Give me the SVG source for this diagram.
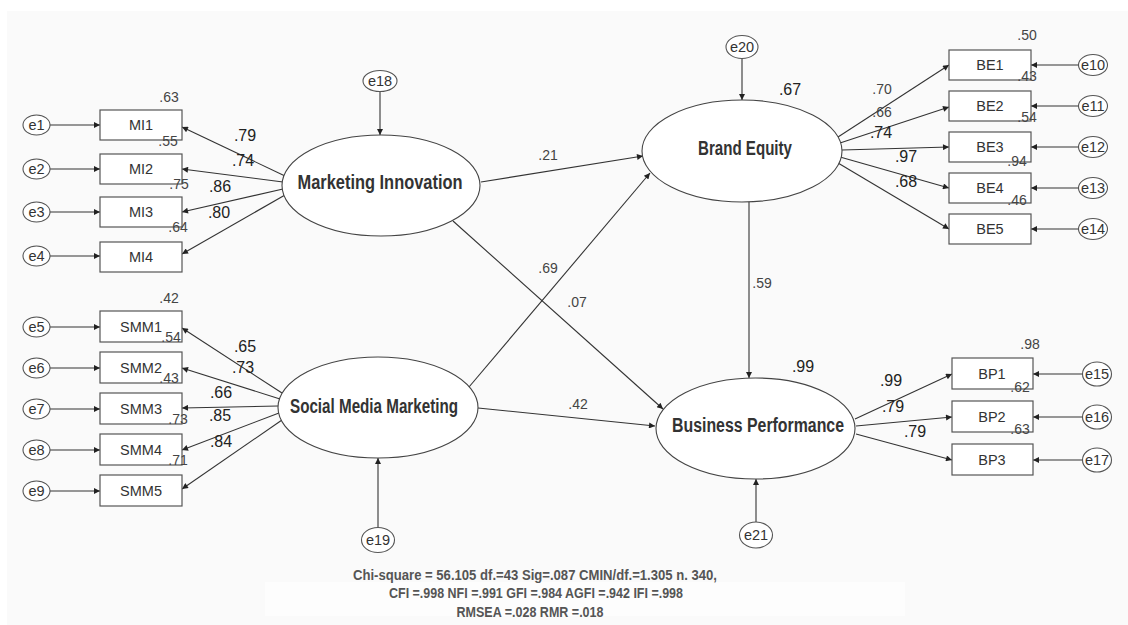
<svg xmlns="http://www.w3.org/2000/svg" width="1128" height="625" viewBox="0 0 1128 625">
<defs>
<marker id="ah" viewBox="0 0 10 10" refX="10" refY="5" markerWidth="9" markerHeight="6" markerUnits="userSpaceOnUse" orient="auto">
<path d="M0,0 L10,5 L0,10 z" fill="#222"/>
</marker>
<style>
.ln{stroke:#333;stroke-width:1.1;fill:none;marker-end:url(#ah)}
.bx{fill:#fff;stroke:#555;stroke-width:1.2}
.lat{fill:#fff;stroke:#444;stroke-width:1.1}
.err{fill:#fff;stroke:#555;stroke-width:1.1}
.bt{font-family:"Liberation Sans",Arial,sans-serif;font-size:14.5px;fill:#333;text-anchor:middle}
.et{font-family:"Liberation Sans",Arial,sans-serif;font-size:14.5px;fill:#333;text-anchor:middle}
.lt{font-family:"Liberation Sans",Arial,sans-serif;font-size:20px;font-weight:bold;fill:#333;text-anchor:middle}
.ld{font-family:"Liberation Sans",Arial,sans-serif;font-size:16px;fill:#222;text-anchor:middle}
.r2{font-family:"Liberation Sans",Arial,sans-serif;font-size:14px;fill:#444;text-anchor:middle}
.ft{font-family:"Liberation Sans",Arial,sans-serif;font-size:14px;font-weight:bold;fill:#555;text-anchor:middle}
</style>
</defs>
<rect x="0" y="0" width="1128" height="625" fill="#fff"/>
<rect x="7" y="11" width="1121" height="614" fill="#fafafa"/>
<rect x="265" y="582" width="640" height="34" fill="#fff" opacity="0.5"/>

<g id="connectors">
<line class="ln" x1="50" y1="125" x2="100" y2="125"/>
<line class="ln" x1="50" y1="169" x2="100" y2="169"/>
<line class="ln" x1="50" y1="212" x2="100" y2="212"/>
<line class="ln" x1="50" y1="256" x2="100" y2="256"/>
<line class="ln" x1="50" y1="327" x2="100" y2="327"/>
<line class="ln" x1="50" y1="368" x2="100" y2="368"/>
<line class="ln" x1="50" y1="409" x2="100" y2="409"/>
<line class="ln" x1="50" y1="450" x2="100" y2="450"/>
<line class="ln" x1="50" y1="491" x2="100" y2="491"/>
<line class="ln" x1="285" y1="176" x2="182" y2="127"/>
<line class="ln" x1="283" y1="182" x2="182" y2="169"/>
<line class="ln" x1="283" y1="189" x2="182" y2="212"/>
<line class="ln" x1="285" y1="195" x2="182" y2="254"/>
<line class="ln" x1="282" y1="393" x2="182" y2="328"/>
<line class="ln" x1="280" y1="399" x2="182" y2="368"/>
<line class="ln" x1="278" y1="406" x2="182" y2="408"/>
<line class="ln" x1="279" y1="413" x2="182" y2="450"/>
<line class="ln" x1="282" y1="420" x2="182" y2="489"/>
<line class="ln" x1="380" y1="91" x2="380" y2="135"/>
<line class="ln" x1="378" y1="528" x2="378" y2="458"/>
<line class="ln" x1="742" y1="58" x2="742" y2="100"/>
<line class="ln" x1="756" y1="522" x2="756" y2="479"/>
<line class="ln" x1="481" y1="182" x2="643" y2="156"/>
<line class="ln" x1="469" y1="387" x2="650" y2="173"/>
<line class="ln" x1="453" y1="221" x2="663" y2="409"/>
<line class="ln" x1="478" y1="408" x2="655" y2="426"/>
<line class="ln" x1="749" y1="202" x2="749" y2="378"/>
<line class="ln" x1="838" y1="137" x2="949" y2="65"/>
<line class="ln" x1="840" y1="143" x2="949" y2="107"/>
<line class="ln" x1="842" y1="150" x2="949" y2="147"/>
<line class="ln" x1="840" y1="157" x2="949" y2="188"/>
<line class="ln" x1="838" y1="163" x2="949" y2="229"/>
<line class="ln" x1="855" y1="419" x2="952" y2="374"/>
<line class="ln" x1="856" y1="426" x2="952" y2="417"/>
<line class="ln" x1="856" y1="434" x2="952" y2="460"/>
<line class="ln" x1="1079" y1="65" x2="1031" y2="65"/>
<line class="ln" x1="1079" y1="106" x2="1031" y2="106"/>
<line class="ln" x1="1079" y1="147" x2="1031" y2="147"/>
<line class="ln" x1="1079" y1="188" x2="1031" y2="188"/>
<line class="ln" x1="1079" y1="229" x2="1031" y2="229"/>
<line class="ln" x1="1083" y1="374" x2="1033" y2="374"/>
<line class="ln" x1="1083" y1="417" x2="1033" y2="417"/>
<line class="ln" x1="1083" y1="460" x2="1033" y2="460"/>
</g>

<g id="e1"><ellipse class="err" cx="36.5" cy="125" rx="13.5" ry="10"/><text class="et" x="36.5" y="130">e1</text></g>
<g id="e2"><ellipse class="err" cx="36.5" cy="169" rx="13.5" ry="10"/><text class="et" x="36.5" y="174">e2</text></g>
<g id="e3"><ellipse class="err" cx="36.5" cy="212" rx="13.5" ry="10"/><text class="et" x="36.5" y="217">e3</text></g>
<g id="e4"><ellipse class="err" cx="36.5" cy="256" rx="13.5" ry="10"/><text class="et" x="36.5" y="261">e4</text></g>
<g id="e5"><ellipse class="err" cx="36.5" cy="327" rx="13.5" ry="10"/><text class="et" x="36.5" y="332">e5</text></g>
<g id="e6"><ellipse class="err" cx="36.5" cy="368" rx="13.5" ry="10"/><text class="et" x="36.5" y="373">e6</text></g>
<g id="e7"><ellipse class="err" cx="36.5" cy="409" rx="13.5" ry="10"/><text class="et" x="36.5" y="414">e7</text></g>
<g id="e8"><ellipse class="err" cx="36.5" cy="450" rx="13.5" ry="10"/><text class="et" x="36.5" y="455">e8</text></g>
<g id="e9"><ellipse class="err" cx="36.5" cy="491" rx="13.5" ry="10"/><text class="et" x="36.5" y="496">e9</text></g>

<g id="MI1"><rect class="bx" x="100" y="110" width="82" height="30"/><text class="bt" x="141" y="130">MI1</text></g>
<g id="MI2"><rect class="bx" x="100" y="154" width="82" height="30"/><text class="bt" x="141" y="174">MI2</text></g>
<g id="MI3"><rect class="bx" x="100" y="197" width="82" height="30"/><text class="bt" x="141" y="217">MI3</text></g>
<g id="MI4"><rect class="bx" x="100" y="242" width="82" height="30"/><text class="bt" x="141" y="262">MI4</text></g>
<g id="SMM1"><rect class="bx" x="100" y="311" width="82" height="31"/><text class="bt" x="141" y="332">SMM1</text></g>
<g id="SMM2"><rect class="bx" x="100" y="352" width="82" height="31"/><text class="bt" x="141" y="373">SMM2</text></g>
<g id="SMM3"><rect class="bx" x="100" y="393" width="82" height="31"/><text class="bt" x="141" y="414">SMM3</text></g>
<g id="SMM4"><rect class="bx" x="100" y="434" width="82" height="31"/><text class="bt" x="141" y="455">SMM4</text></g>
<g id="SMM5"><rect class="bx" x="100" y="475" width="82" height="31"/><text class="bt" x="141" y="496">SMM5</text></g>

<g id="e18"><ellipse class="err" cx="380" cy="81" rx="17" ry="10.5"/><text class="et" x="380" y="86">e18</text></g>
<g id="e19"><ellipse class="err" cx="378" cy="540" rx="16.5" ry="12.5"/><text class="et" x="378" y="545">e19</text></g>
<g id="e20"><ellipse class="err" cx="742" cy="47" rx="16" ry="11.5"/><text class="et" x="742" y="52">e20</text></g>
<g id="e21"><ellipse class="err" cx="756" cy="535" rx="16.5" ry="13"/><text class="et" x="756" y="540">e21</text></g>

<g id="MarketingInnovation"><ellipse class="lat" cx="381" cy="185.5" rx="99" ry="50.5"/><text class="lt" x="380" y="189" textLength="165" lengthAdjust="spacingAndGlyphs">Marketing Innovation</text></g>
<g id="SocialMediaMarketing"><ellipse class="lat" cx="378" cy="407.5" rx="100" ry="50.5"/><text class="lt" x="374" y="413" textLength="168" lengthAdjust="spacingAndGlyphs">Social Media Marketing</text></g>
<g id="BrandEquity"><ellipse class="lat" cx="742" cy="151" rx="100" ry="51"/><text class="lt" x="745" y="155" textLength="94" lengthAdjust="spacingAndGlyphs">Brand Equity</text></g>
<g id="BusinessPerformance"><ellipse class="lat" cx="755.5" cy="428.5" rx="99.5" ry="50.5"/><text class="lt" x="758" y="432" textLength="172" lengthAdjust="spacingAndGlyphs">Business Performance</text></g>

<g id="BE1"><rect class="bx" x="949" y="50" width="82" height="30"/><text class="bt" x="990" y="70">BE1</text></g>
<g id="BE2"><rect class="bx" x="949" y="91" width="82" height="30"/><text class="bt" x="990" y="111">BE2</text></g>
<g id="BE3"><rect class="bx" x="949" y="132" width="82" height="30"/><text class="bt" x="990" y="152">BE3</text></g>
<g id="BE4"><rect class="bx" x="949" y="173" width="82" height="30"/><text class="bt" x="990" y="193">BE4</text></g>
<g id="BE5"><rect class="bx" x="949" y="214" width="82" height="30"/><text class="bt" x="990" y="234">BE5</text></g>
<g id="BP1"><rect class="bx" x="952" y="358" width="81" height="31"/><text class="bt" x="992" y="379">BP1</text></g>
<g id="BP2"><rect class="bx" x="952" y="401" width="81" height="31"/><text class="bt" x="992" y="422">BP2</text></g>
<g id="BP3"><rect class="bx" x="952" y="444" width="81" height="31"/><text class="bt" x="992" y="465">BP3</text></g>

<g id="e10"><ellipse class="err" cx="1093" cy="65" rx="14.5" ry="10.5"/><text class="et" x="1093" y="70">e10</text></g>
<g id="e11"><ellipse class="err" cx="1093" cy="106" rx="14.5" ry="10.5"/><text class="et" x="1093" y="111">e11</text></g>
<g id="e12"><ellipse class="err" cx="1093" cy="147" rx="14.5" ry="10.5"/><text class="et" x="1093" y="152">e12</text></g>
<g id="e13"><ellipse class="err" cx="1093" cy="188" rx="14.5" ry="10.5"/><text class="et" x="1093" y="193">e13</text></g>
<g id="e14"><ellipse class="err" cx="1093" cy="229" rx="14.5" ry="10.5"/><text class="et" x="1093" y="234">e14</text></g>
<g id="e15"><ellipse class="err" cx="1097" cy="374" rx="14.5" ry="12"/><text class="et" x="1097" y="379">e15</text></g>
<g id="e16"><ellipse class="err" cx="1097" cy="417" rx="14.5" ry="12"/><text class="et" x="1097" y="422">e16</text></g>
<g id="e17"><ellipse class="err" cx="1097" cy="460" rx="14.5" ry="12"/><text class="et" x="1097" y="465">e17</text></g>

<g id="labels">
<text class="r2" x="169" y="102">.63</text>
<text class="r2" x="168" y="146">.55</text>
<text class="r2" x="179" y="189">.75</text>
<text class="r2" x="178" y="232">.64</text>
<text class="ld" x="245" y="141">.79</text>
<text class="ld" x="243" y="166">.74</text>
<text class="ld" x="220" y="192">.86</text>
<text class="ld" x="219" y="218">.80</text>
<text class="r2" x="169" y="303">.42</text>
<text class="r2" x="171" y="342">.54</text>
<text class="r2" x="169" y="383">.43</text>
<text class="r2" x="178" y="424">.73</text>
<text class="r2" x="178" y="465">.71</text>
<text class="ld" x="245" y="352">.65</text>
<text class="ld" x="243" y="373">.73</text>
<text class="ld" x="221" y="398">.66</text>
<text class="ld" x="220" y="421">.85</text>
<text class="ld" x="221" y="447">.84</text>
<text class="r2" x="548" y="160">.21</text>
<text class="r2" x="548" y="273">.69</text>
<text class="r2" x="577" y="307">.07</text>
<text class="r2" x="578" y="409">.42</text>
<text class="r2" x="762" y="288">.59</text>
<text class="ld" x="790" y="95">.67</text>
<text class="ld" x="803" y="372">.99</text>
<text class="r2" x="1027" y="40">.50</text>
<text class="r2" x="1027" y="81">.43</text>
<text class="r2" x="1027" y="122">.54</text>
<text class="r2" x="1017" y="166">.94</text>
<text class="r2" x="1017" y="205">.46</text>
<text class="r2" x="882" y="94">.70</text>
<text class="r2" x="882" y="117">.66</text>
<text class="ld" x="881" y="138">.74</text>
<text class="ld" x="906" y="162">.97</text>
<text class="ld" x="906" y="187">.68</text>
<text class="r2" x="1030" y="349">.98</text>
<text class="r2" x="1020" y="392">.62</text>
<text class="r2" x="1020" y="434">.63</text>
<text class="ld" x="891" y="386">.99</text>
<text class="ld" x="893" y="412">.79</text>
<text class="ld" x="915" y="437">.79</text>
</g>

<g id="fit">
<text class="ft" x="535" y="580" textLength="364" lengthAdjust="spacingAndGlyphs">Chi-square = 56.105 df.=43 Sig=.087 CMIN/df.=1.305 n. 340,</text>
<text class="ft" x="536" y="598" textLength="294" lengthAdjust="spacingAndGlyphs">CFI =.998 NFI =.991 GFI =.984 AGFI =.942 IFI =.998</text>
<text class="ft" x="530" y="617" textLength="147" lengthAdjust="spacingAndGlyphs">RMSEA =.028 RMR =.018</text>
</g>
</svg>
